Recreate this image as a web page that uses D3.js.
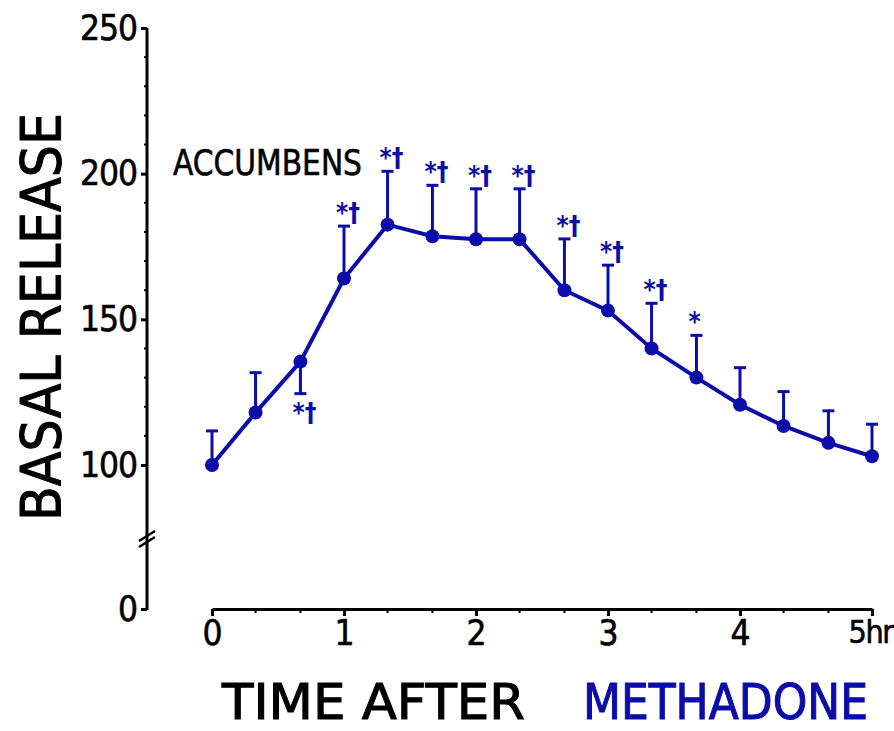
<!doctype html>
<html>
  <head>
    <meta charset="utf-8">
    <script src="https://cdn.jsdelivr.net/npm/d3@7"></script>
    <style>
      body { margin: 0; background: white; }
      .chart { font-family: "DejaVu Sans Condensed", "DejaVu Sans", sans-serif; }
    </style>
  </head>
  <body>
    <svg class="chart"></svg>
    <script>
      // hours after methadone
      const times = [0, 0.33, 0.67, 1, 1.33, 1.67, 2, 2.33, 2.67, 3, 3.33, 3.67, 4, 4.33, 4.67, 5]
      // basal release, % of baseline
      const means = [100, 118, 135.5, 164, 182.5, 178.5, 177.5, 177.5, 160, 153, 140, 130, 120.7, 113.4, 107.6, 103]
      const sems = [11.7, 13.7, 11, 18, 18.3, 17.5, 17.3, 17.3, 17.6, 15.6, 15.5, 14.5, 12.7, 11.8, 11, 11]
      const errDir = ["up", "up", "down", "up", "up", "up", "up", "up", "up", "up", "up", "up", "up", "up", "up", "up"]
      const marks = ["", "", "*†", "*†", "*†", "*†", "*†", "*†", "*†", "*†", "*†", "*", "", "", "", ""]

      const yTicks = [0, 100, 150, 200, 250]
      const xTicks = [0, 1, 2, 3, 4, 5]
      const xTickLabels = ["0", "1", "2", "3", "4", "5hr"]

      const W = 894, H = 731
      const blue = "#0c0ca8"

      const svg = d3.select(".chart")
                    .attr("width", W)
                    .attr("height", H)

      const x = d3.scaleLinear().domain([0, 5]).range([212, 872])
      // broken axis: 0 sits below the break, 100-250 linear above it
      const y = d3.scaleLinear().domain([0, 100, 250]).range([609, 465, 28])
      const axisX = 147

      // y axis
      const yAxis = svg.append("g")
                       .attr("transform", "translate(" + axisX + ",0)")
                       .call(d3.axisLeft(y).tickValues(yTicks).tickSize(6).tickPadding(4).tickSizeOuter(0))
      yAxis.select(".domain").attr("stroke-width", 3).attr("d", "M0," + y(250) + "V" + (y(0) + 1))
      yAxis.selectAll(".tick line").attr("stroke-width", 3)
      yAxis.selectAll(".tick text")
           .attr("font-size", 35)
           .attr("font-family", "DejaVu Sans Condensed, DejaVu Sans, sans-serif")
           .attr("letter-spacing", -1)
           .attr("fill", "black")
           .attr("stroke", "black")
           .attr("stroke-width", 0.6)

      // minor ticks
      yAxis.selectAll(".minor")
           .data(d3.range(110, 250, 10).filter(v => v % 50 !== 0))
           .enter().append("line")
             .attr("class", "minor")
             .attr("x1", -3).attr("x2", 0)
             .attr("y1", d => y(d)).attr("y2", d => y(d))
             .attr("stroke", "black")
             .attr("stroke-width", 2)

      // axis break
      ;[0, 6].forEach(off => {
        svg.append("line")
           .attr("x1", axisX - 8).attr("y1", 541 + off)
           .attr("x2", axisX + 8).attr("y2", 531 + off)
           .attr("stroke", "black")
           .attr("stroke-width", 2.5)
      })

      // x axis
      const xAxis = svg.append("g")
                       .attr("transform", "translate(0," + y(0) + ")")
                       .call(d3.axisBottom(x).tickValues(xTicks).tickSize(7).tickPadding(4).tickSizeOuter(0)
                               .tickFormat((d, i) => xTickLabels[i]))
      xAxis.select(".domain").attr("stroke-width", 3)
      xAxis.selectAll(".tick line").attr("stroke-width", 3)
      xAxis.selectAll(".tick text")
           .attr("font-size", 35)
           .attr("font-family", "DejaVu Sans Condensed, DejaVu Sans, sans-serif")
           .attr("fill", "black")
           .attr("stroke", "black")
           .attr("stroke-width", 0.6)
      // last label sits hard against the right edge
      xAxis.selectAll(".tick text").filter((d, i) => i === 5)
           .attr("text-anchor", "end")
           .attr("dx", 20)
           .attr("font-size", 32)
           .attr("letter-spacing", -1.5)

      xAxis.selectAll(".minor")
           .data([0.33, 0.67, 1.33, 1.67, 2.33, 2.67, 3.33, 3.67, 4.33, 4.67])
           .enter().append("line")
             .attr("class", "minor")
             .attr("x1", d => x(d)).attr("x2", d => x(d))
             .attr("y1", 0).attr("y2", 4)
             .attr("stroke", "black")
             .attr("stroke-width", 2)

      // labels
      svg.append("text")
         .attr("transform", "translate(60," + 317 + ") rotate(-90)")
         .attr("text-anchor", "middle")
         .attr("font-size", 56)
         .attr("stroke", "black")
         .attr("stroke-width", 1)
         .attr("textLength", 408)
         .attr("lengthAdjust", "spacingAndGlyphs")
         .text("BASAL RELEASE")

      svg.append("text")
         .attr("x", 222).attr("y", 719)
         .attr("font-size", 50)
         .attr("stroke", "black")
         .attr("stroke-width", 1)
         .attr("textLength", 303)
         .attr("lengthAdjust", "spacingAndGlyphs")
         .text("TIME AFTER")

      svg.append("text")
         .attr("x", 583).attr("y", 719)
         .attr("font-size", 50)
         .attr("fill", blue)
         .attr("stroke", blue)
         .attr("stroke-width", 1)
         .attr("textLength", 285)
         .attr("lengthAdjust", "spacingAndGlyphs")
         .text("METHADONE")

      svg.append("text")
         .attr("x", 173).attr("y", 175)
         .attr("font-size", 36)
         .attr("stroke", "black")
         .attr("stroke-width", 0.6)
         .attr("textLength", 189)
         .attr("lengthAdjust", "spacingAndGlyphs")
         .text("ACCUMBENS")

      // data
      const data = times.map((t, i) => ({ t: t, m: means[i], e: sems[i], dir: errDir[i], mark: marks[i] }))
      const errEnd = d => d.dir === "up" ? d.m + d.e : d.m - d.e

      const plot = svg.append("g")

      plot.selectAll(".err")
          .data(data)
          .enter().append("line")
            .attr("class", "err")
            .attr("x1", d => x(d.t)).attr("x2", d => x(d.t))
            .attr("y1", d => y(d.m)).attr("y2", d => y(errEnd(d)))
            .attr("stroke", blue)
            .attr("stroke-width", 3)

      plot.selectAll(".cap")
          .data(data)
          .enter().append("line")
            .attr("class", "cap")
            .attr("x1", d => x(d.t) - 6).attr("x2", d => x(d.t) + 6)
            .attr("y1", d => y(errEnd(d))).attr("y2", d => y(errEnd(d)))
            .attr("stroke", blue)
            .attr("stroke-width", 3)

      plot.append("path")
          .datum(data)
          .attr("fill", "none")
          .attr("stroke", blue)
          .attr("stroke-width", 4)
          .attr("d", d3.line().x(d => x(d.t)).y(d => y(d.m)))

      plot.selectAll(".dot")
          .data(data)
          .enter().append("circle")
            .attr("class", "dot")
            .attr("cx", d => x(d.t))
            .attr("cy", d => y(d.m))
            .attr("r", 7)
            .attr("fill", blue)

      plot.selectAll(".sig")
          .data(data.filter(d => d.mark))
          .enter().append("text")
            .attr("class", "sig")
            .attr("x", d => x(d.t) - 8)
            .attr("y", d => d.dir === "up" ? y(errEnd(d)) - 4 : y(errEnd(d)) + 28)
            .attr("font-size", 26)
            .attr("font-weight", "bold")
            .attr("fill", blue)
            .text(d => d.mark)
    </script>
  </body>
</html>
